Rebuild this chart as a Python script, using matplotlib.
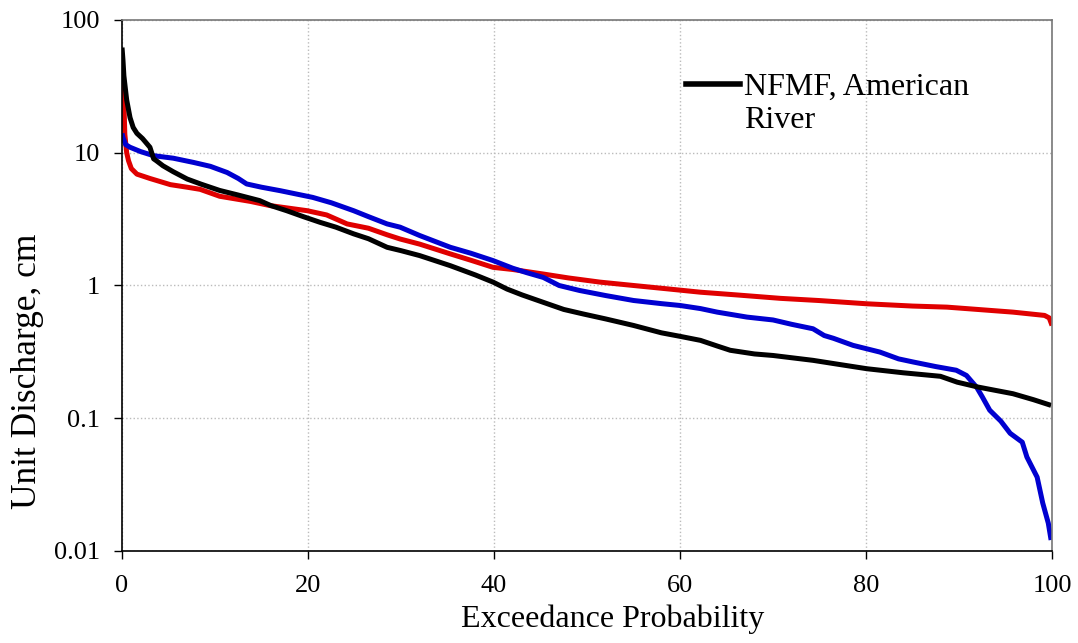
import matplotlib
matplotlib.use("Agg")
import matplotlib.pyplot as plt
from matplotlib.lines import Line2D

# Data (exceedance probability %, unit discharge cm)
black_x = [0, 0.1, 0.2, 0.3, 0.5, 0.86, 1.2, 1.6, 2.2, 3.0, 3.4, 3.7, 4.4, 5.5, 7, 8.5, 10.5, 12.5,
           14.8, 16, 17.7, 19.5, 21.3, 23, 24.9, 26.5, 28.5, 30, 32, 35.3, 38, 39.9, 41.4, 43, 45.7,
           47.5, 49.6, 52, 55, 58, 60, 62.2, 64, 65.4, 68, 70, 74.3, 77, 80.1, 84, 88, 89.8, 92,
           95.8, 98, 99.9]
black_y = [62, 50, 38, 33, 25, 18.4, 15.5, 14, 12.8, 11, 9.0, 8.7, 7.98, 7.2, 6.34, 5.8, 5.2, 4.8,
           4.36, 4.0, 3.66, 3.3, 2.99, 2.75, 2.45, 2.25, 1.94, 1.83, 1.68, 1.41, 1.2, 1.06, 0.94, 0.85,
           0.73, 0.66, 0.61, 0.56, 0.50, 0.44, 0.414, 0.386, 0.35, 0.325, 0.305, 0.297, 0.273, 0.255,
           0.236, 0.22, 0.207, 0.187, 0.172, 0.153, 0.138, 0.125]

blue_x = [0, 0.1, 0.4, 0.86, 2, 3.4, 5.5, 7.7, 9.5, 11.3, 12.5, 13.4, 15, 17, 20.5, 22.5, 24.9, 26.5,
          28.5, 29.9, 32, 35.3, 37.5, 39.9, 42, 43.5, 45.3, 47, 49.2, 52, 55, 58, 60, 62.2, 64, 67.2,
          70, 72, 74.3, 75.5, 76.5, 78.6, 81.5, 83.5, 85.1, 87.5, 89.7, 90.8, 91.9, 92.5, 93.3, 94.5,
          95.5, 96.8, 97.3, 98.4, 99.0, 99.6, 99.9]
blue_y = [14, 13, 11.5, 11, 10.2, 9.5, 9.1, 8.45, 7.9, 7.1, 6.4, 5.82, 5.5, 5.18, 4.61, 4.2, 3.66, 3.3,
          2.91, 2.75, 2.38, 1.94, 1.75, 1.54, 1.35, 1.25, 1.15, 1.0, 0.917, 0.84, 0.771, 0.73, 0.707,
          0.67, 0.63, 0.578, 0.55, 0.51, 0.472, 0.42, 0.40, 0.354, 0.315, 0.28, 0.265, 0.245, 0.23,
          0.21, 0.171, 0.145, 0.115, 0.095, 0.077, 0.066, 0.051, 0.036, 0.023, 0.0162, 0.0121]

red_x = [0, 0.07, 0.2, 0.3, 0.5, 0.7, 1.0, 1.6, 3, 5.2, 7, 8.4, 10.5, 13.8, 15.9, 19.9, 22, 24.2, 26.5,
         28.5, 29.9, 32, 35.3, 37.5, 39.9, 42, 45.3, 48, 51.4, 55, 58.6, 62.2, 66, 70.8, 75, 80.1, 85,
         88.7, 92, 95.8, 99.2, 99.7, 100]
red_y = [45, 42, 24.6, 13.8, 10, 8.7, 7.6, 6.9, 6.4, 5.75, 5.5, 5.3, 4.7, 4.3, 4.0, 3.66, 3.4, 2.91, 2.7,
         2.41, 2.24, 2.05, 1.73, 1.55, 1.37, 1.32, 1.22, 1.14, 1.06, 1.0, 0.944, 0.89, 0.85, 0.80, 0.77,
         0.728, 0.70, 0.687, 0.66, 0.63, 0.595, 0.57, 0.5]

x_ticks = [0, 20, 40, 60, 80, 100]
y_ticks = [0.01, 0.1, 1, 10, 100]
y_tick_labels = ["0.01", "0.1", "1", "10", "100"]
legend_label = ["NFMF, American", "River"]

plt.rcParams['font.family'] = ['Liberation Serif', 'DejaVu Serif']

fig = plt.figure(figsize=(10.78, 6.43), dpi=100)
ax = fig.add_axes([0.1132, 0.1431, 0.8627, 0.8258])

lw = 3.6
ax.plot(red_x, red_y, color='#E00000', lw=lw, solid_joinstyle='round', solid_capstyle='butt')
ax.plot(blue_x, blue_y, color='#0000D0', lw=lw, solid_joinstyle='round', solid_capstyle='butt')
ax.plot(black_x, black_y, color='black', lw=lw, solid_joinstyle='round', solid_capstyle='butt')

ax.set_yscale('log')
ax.set_xlim(0, 100)
ax.set_ylim(0.01, 100)
ax.set_xticks(x_ticks)
ax.set_xticklabels([str(t) for t in x_ticks])
ax.set_yticks(y_ticks)
ax.set_yticklabels(y_tick_labels)
ax.minorticks_off()
ax.tick_params(axis='both', which='major', direction='out', length=6, width=1, labelsize=19)
ax.tick_params(axis='y', pad=10)
ax.tick_params(axis='x', pad=11)
ax.grid(True, which='major', color='#BBBBBB', linestyle=':', linewidth=1)

for s in ['left', 'bottom']:
    ax.spines[s].set_color('black')
    ax.spines[s].set_linewidth(1.2)
for s in ['top', 'right']:
    ax.spines[s].set_color('#777777')
    ax.spines[s].set_linewidth(1.2)

ax.set_xlabel('Exceedance Probability', fontsize=23)
ax.set_ylabel('Unit Discharge, cm', fontsize=25.5)
ax.xaxis.set_label_coords(0.528, -0.1)
ax.yaxis.set_label_coords(-0.084, 0.339)

h1 = Line2D([], [], color='black', lw=4)
h2 = Line2D([], [], color='none', lw=0)
ax.legend([h1, h2], legend_label, loc='upper left', bbox_to_anchor=(0.5925, 0.925),
          frameon=False, fontsize=23, handlelength=1.7, handletextpad=0.12,
          labelspacing=0.1, borderaxespad=0)

fig.savefig('out.png', dpi=100)
